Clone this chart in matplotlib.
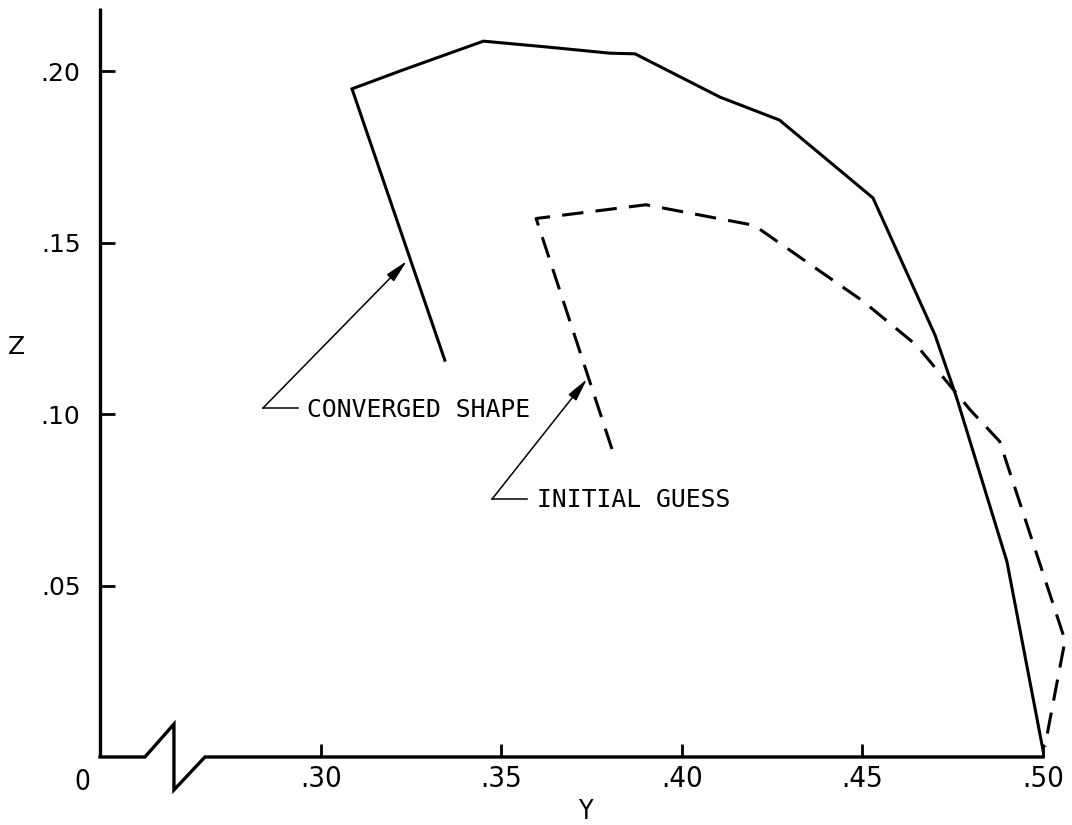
import os
import matplotlib
matplotlib.use("Agg")
import matplotlib.pyplot as plt
from matplotlib import font_manager as fm

# ---- data (Y, Z) ----
conv_y = [0.3343, 0.3086, 0.3227, 0.3450, 0.3626, 0.3800, 0.3870, 0.4105, 0.4270, 0.4529, 0.4701, 0.4760, 0.4900, 0.5000]
conv_z = [0.1157, 0.1948, 0.2003, 0.2087, 0.2070, 0.2052, 0.2050, 0.1924, 0.1857, 0.1630, 0.1230, 0.1050, 0.0570, 0.0020]

init_y = [0.3806, 0.3596, 0.3900, 0.4200, 0.4500, 0.4650, 0.4800, 0.4880, 0.5061, 0.5005]
init_z = [0.0898, 0.1570, 0.1610, 0.1550, 0.1330, 0.1200, 0.1010, 0.0920, 0.0340, 0.0030]

xticks = [0.30, 0.35, 0.40, 0.45, 0.50]
xtick_labels = [".30", ".35", ".40", ".45", ".50"]
yticks = [0.05, 0.10, 0.15, 0.20]
ytick_labels = [".05", ".10", ".15", ".20"]

label_conv = "CONVERGED SHAPE"
label_init = "INITIAL GUESS"


# ---- pick a condensed font if one is installed ----
def find_condensed():
    cands = []
    for f in fm.fontManager.ttflist:
        base = os.path.basename(f.fname).lower()
        if ("condensed" in base or "narrow" in base) and not any(
                k in base for k in ("bold", "oblique", "italic", "light", "black")):
            cands.append(f.fname)
    pref = ["liberationsansnarrow-regular", "dejavusanscondensed.", "robotocondensed-regular"]
    for p in pref:
        for c in cands:
            if p in os.path.basename(c).lower():
                return c
    return cands[0] if cands else None


cond_file = find_condensed()
if cond_file:
    def cprops(size):
        return fm.FontProperties(fname=cond_file, size=size)
    cond_scale = 1.0
else:
    def cprops(size):
        return fm.FontProperties(family="Roboto", size=size)
    cond_scale = 0.85

mono = fm.FontProperties(family="DejaVu Sans Mono", size=17.8)

# ---- layout ----
W, H = 1072, 825
fig = plt.figure(figsize=(W / 100, H / 100), dpi=100)
fig.patch.set_facecolor("white")

x_left, x_right = 0.2388, 0.50803
z_top = 0.2207
ax = fig.add_axes([100 / W, (H - 757) / H, 972 / W, 757 / H])
ax.set_xlim(x_left, x_right)
ax.set_ylim(0, z_top)
for s in ax.spines.values():
    s.set_visible(False)

ax.set_xticks(xticks, xtick_labels)
ax.set_yticks(yticks, ytick_labels)
ax.tick_params(axis="x", direction="in", length=9.5, width=2.0, pad=6)
ax.tick_params(axis="y", direction="in", length=11, width=2.0, pad=14)
for t in ax.get_xticklabels():
    t.set_fontproperties(cprops(21 * cond_scale + (0 if cond_file else 2)))
for t in ax.get_yticklabels():
    t.set_fontproperties(fm.FontProperties(family="DejaVu Sans", size=18))

lw_axis = 2.4
# left axis line
ax.plot([x_left, x_left], [0, 0.2184], color="black", lw=lw_axis,
        clip_on=False, solid_capstyle="butt")
# bottom axis line with break symbol
brk_y = [x_left, 0.25125, 0.25928, 0.25928, 0.26787, 0.5000]
brk_z = [0.0, 0.0, 0.0096, -0.0096, 0.0, 0.0]
ax.plot(brk_y, brk_z, color="black", lw=lw_axis, clip_on=False,
        solid_joinstyle="miter")

# curves
ax.plot(conv_y, conv_z, color="black", lw=2.2, clip_on=False,
        solid_joinstyle="miter")
ax.plot(init_y, init_z, color="black", lw=2.2, ls=(0, (7, 4)),
        clip_on=False)

# annotations
arrow_kw = dict(arrowstyle="-|>,head_length=1.4,head_width=0.3",
                color="black", lw=1.1, shrinkA=0, shrinkB=0)
ax.annotate("", xy=(0.3238, 0.1446), xytext=(0.2839, 0.1017),
            arrowprops=arrow_kw, annotation_clip=False)
ax.plot([0.2839, 0.2936], [0.1017, 0.1017], color="black", lw=1.1)
ax.text(0.2961, 0.1012, label_conv, fontproperties=mono,
        ha="left", va="center")

ax.annotate("", xy=(0.3737, 0.1102), xytext=(0.3474, 0.0752),
            arrowprops=arrow_kw, annotation_clip=False)
ax.plot([0.3474, 0.3570], [0.0752, 0.0752], color="black", lw=1.1)
ax.text(0.3598, 0.0748, label_init, fontproperties=mono,
        ha="left", va="center")

# axis labels
fig.text(82 / W, 1 - 782 / H, "0", fontproperties=cprops(20 * cond_scale),
         ha="center", va="center")
fig.text(16 / W, 1 - 347 / H, "Z",
         fontproperties=fm.FontProperties(family="DejaVu Sans", size=18),
         ha="center", va="center")
fig.text(586 / W, 1 - 812 / H, "Y", fontproperties=cprops(19 * cond_scale + (0 if cond_file else 2)),
         ha="center", va="center")

fig.savefig("out.png", dpi=100, facecolor="white")
